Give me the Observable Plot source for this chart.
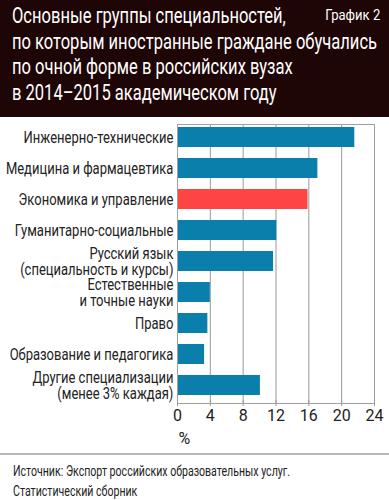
<!DOCTYPE html>
<html>
<head>
<meta charset="utf-8">
<script src="https://cdn.jsdelivr.net/npm/d3@7"></script>
<script src="https://cdn.jsdelivr.net/npm/@observablehq/plot@0.6"></script>
<style>
  html, body { margin: 0; padding: 0; background: #fff; }
  body { width: 389px; height: 500px; overflow: hidden; font-family: Roboto, "Liberation Sans", sans-serif; }
  #head { position: relative; background: #1f0606; color: #fff; height: 117px; box-sizing: border-box; padding: 3px 0 0 12px; }
  #title { font-size: 22px; line-height: 25.5px; margin: 0; }
  .ln { display: block; white-space: nowrap; transform-origin: 0 50%; width: max-content; }
  #tag { position: absolute; right: 9px; top: 6px; font-size: 15px; transform-origin: 100% 50%; }
  #chart { height: 336px; }
  #foot { border-top: 2px solid #b9b9b9; padding: 6px 0 0 13px; font-size: 15px; line-height: 20px; color: #222; }
</style>
</head>
<body>
<div id="head">
  <div id="title"><span class="ln">Основные группы специальностей,</span><span class="ln" id="l2">по которым иностранные граждане обучались</span><span class="ln">по очной форме в российских вузах</span><span class="ln">в 2014–2015 академическом году</span></div>
  <div id="tag">График 2</div>
</div>
<div id="chart"></div>
<div id="foot"><span class="ln" id="f1">Источник: Экспорт российских образовательных услуг.</span><span class="ln">Статистический сборник</span></div>
<script>
const categories = [
  "Инженерно-технические",
  "Медицина и фармацевтика",
  "Экономика и управление",
  "Гуманитарно-социальные",
  "Русский язык\n(специальность и курсы)",
  "Естественные\nи точные науки",
  "Право",
  "Образование и педагогика",
  "Другие специализации\n(менее 3% каждая)"
];
const values = [21.6, 17.1, 15.9, 12.1, 11.7, 4.0, 3.7, 3.3, 10.1];
const highlighted = ["Экономика и управление"];
const xTicks = [0, 4, 8, 12, 16, 20, 24];
const xLabel = "%";

const data = categories.map((c, i) => ({category: c, value: values[i], hi: highlighted.includes(c)}));

const marginLeft = 177, tickPad = 4;
const chart = Plot.plot({
  width: 389,
  height: 336,
  marginLeft,
  marginRight: 15,
  marginTop: 4,
  marginBottom: 53,
  style: {fontFamily: 'Roboto, "Liberation Sans", sans-serif', fontSize: "15px", color: "#222", background: "#fff"},
  x: {domain: [0, 24], ticks: xTicks, label: null},
  y: {domain: categories, paddingInner: 0.355, paddingOuter: 0.1775, label: null},
  marks: [
    Plot.gridX(xTicks, {stroke: "#999", strokeOpacity: 1, strokeWidth: 1, insetTop: 3, insetBottom: -3}),
    Plot.barX(data, {y: "category", x: "value", fill: d => d.hi ? "#ff4444" : "#0a7fab"}),
    Plot.frame({stroke: "#a0a0a0", insetTop: 3, insetBottom: -3}),
    Plot.axisX({ticks: xTicks, tickSize: 6, tickPadding: 3, stroke: "#999", fontSize: 16, label: null}),
    Plot.text([xLabel], {frameAnchor: "bottom-left", dy: 38, dx: 1, textAnchor: "start", lineAnchor: "middle", fontSize: 16, fill: "#222"}),
    Plot.axisY({tickSize: 0, tickPadding: tickPad, fontSize: 16, label: null, lineHeight: 1.0})
  ]
});
document.getElementById("chart").appendChild(chart);

// condense the y tick labels toward their right anchor (narrow typeface of the original)
const yg = chart.querySelector('g[aria-label="y-axis tick label"]');
if (yg) {
  const bb = yg.getBBox();
  const ax = marginLeft - tickPad;
  const s = Math.min(1, (ax - 5) / bb.width);
  const prev = yg.getAttribute("transform") || "";
  yg.setAttribute("transform", `translate(${ax},0) scale(${s},1) translate(${-ax},0) ${prev}`);
}

// condense HTML text lines
function condense(refId, target, sel) {
  const w = document.getElementById(refId).getBoundingClientRect().width;
  const s = Math.min(1, target / w);
  document.querySelectorAll(sel).forEach(el => el.style.transform = `scaleX(${s})`);
}
condense("l2", 365, "#title .ln");
condense("f1", 277, "#foot .ln");
const tag = document.getElementById("tag");
tag.style.transform = `scaleX(${Math.min(1, 55 / tag.getBoundingClientRect().width)})`;
</script>
</body>
</html>
